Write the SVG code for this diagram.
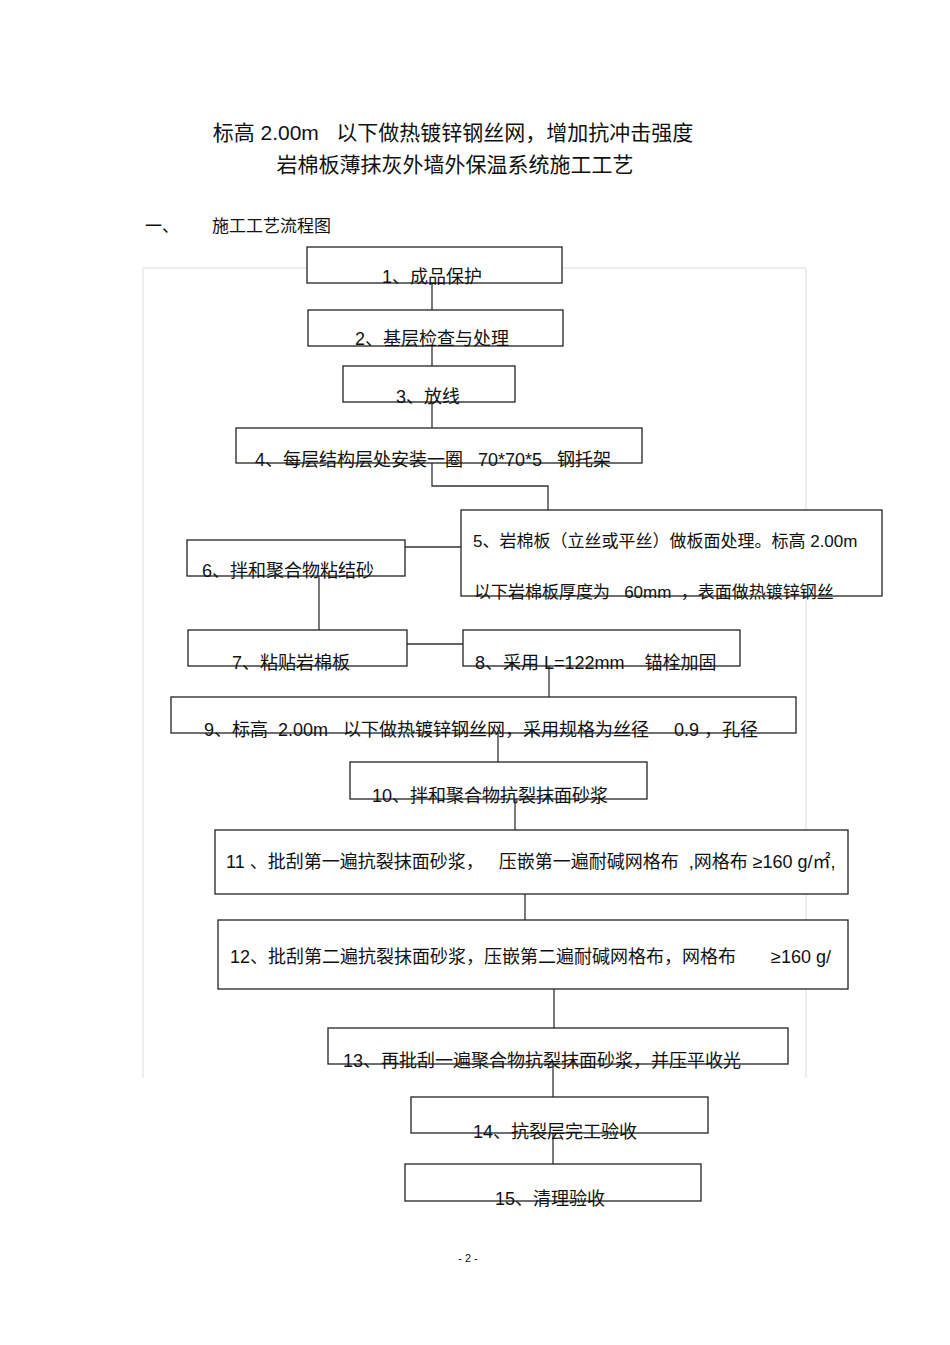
<svg xmlns="http://www.w3.org/2000/svg" width="950" height="1345" viewBox="0 0 950 1345">
<style>
text{font-family:"Liberation Sans","Noto Sans CJK SC",sans-serif;fill:#111;white-space:pre}
.b{fill:#fff;stroke:#222;stroke-width:1.3}
.t{font-size:18px}
.c{text-anchor:middle}
.l{stroke:#333;stroke-width:1.3;fill:none}
</style>
<rect width="950" height="1345" fill="#fff"/>
<path d="M143,1078 V268 H806 V1078" fill="none" stroke="#ddd" stroke-width="1"/>
<text x="453" y="140" class="c" font-size="21" xml:space="preserve">标高 2.00m   以下做热镀锌钢丝网，增加抗冲击强度</text>
<text x="455" y="172" class="c" font-size="21">岩棉板薄抹灰外墙外保温系统施工工艺</text>
<text x="145" y="232" font-size="17">一、</text>
<text x="212" y="232" font-size="17">施工工艺流程图</text>
<g id="connectors">
<path class="l" d="M432,283V310 M432,346V366 M432,402V428 M432,463V486H548V510 M405,547H461 M319,576V630 M407,644H463 M549,666V697 M498,733V762 M515,799V830 M525,894V920 M554,989V1028 M553,1064V1097 M553,1133V1164"/>
</g>
<g id="n1"><rect class="b" x="307" y="247" width="255" height="36"/><text class="t c" x="432" y="283">1、成品保护</text></g>
<g id="n2"><rect class="b" x="308" y="310" width="255" height="36"/><text class="t c" x="432" y="345">2、基层检查与处理</text></g>
<g id="n3"><rect class="b" x="343" y="366" width="172" height="36"/><text class="t c" x="428" y="403">3、放线</text></g>
<g id="n4"><rect class="b" x="236" y="428" width="406" height="35"/><text class="t" x="255" y="466" xml:space="preserve">4、每层结构层处安装一圈   70*70*5   钢托架</text></g>
<g id="n5"><rect class="b" x="461" y="510" width="421" height="86" stroke-width="1.6"/><text x="473" y="547" font-size="17">5、岩棉板（立丝或平丝）做板面处理。标高 2.00m</text><text x="474" y="598" font-size="17" xml:space="preserve">以下岩棉板厚度为   60mm  ，表面做热镀锌钢丝</text></g>
<g id="n6"><rect class="b" x="187" y="540" width="218" height="36"/><text class="t" x="202" y="577">6、拌和聚合物粘结砂</text></g>
<g id="n7"><rect class="b" x="188" y="630" width="219" height="36"/><text class="t" x="232" y="669">7、粘贴岩棉板</text></g>
<g id="n8"><rect class="b" x="463" y="630" width="277" height="36"/><text class="t" x="475" y="669" xml:space="preserve">8、采用 L=122mm    锚栓加固</text></g>
<g id="n9"><rect class="b" x="171" y="697" width="625" height="36"/><text class="t" x="204" y="736" xml:space="preserve">9、标高  2.00m   以下做热镀锌钢丝网，采用规格为丝径     0.9 ，孔径</text></g>
<g id="n10"><rect class="b" x="350" y="762" width="297" height="37"/><text class="t" x="372" y="802">10、拌和聚合物抗裂抹面砂浆</text></g>
<g id="n11"><rect class="b" x="215" y="830" width="633" height="64" stroke-width="1.8"/><text class="t" x="226" y="868" xml:space="preserve">11 、批刮第一遍抗裂抹面砂浆，   压嵌第一遍耐碱网格布  ,网格布 ≥160 g/㎡,</text></g>
<g id="n12"><rect class="b" x="218" y="920" width="630" height="69"/><text class="t" x="230" y="963" xml:space="preserve">12、批刮第二遍抗裂抹面砂浆，压嵌第二遍耐碱网格布，网格布       ≥160 g/</text></g>
<g id="n13"><rect class="b" x="328" y="1028" width="460" height="36"/><text class="t" x="343" y="1067">13、再批刮一遍聚合物抗裂抹面砂浆，并压平收光</text></g>
<g id="n14"><rect class="b" x="411" y="1097" width="297" height="36"/><text class="t" x="473" y="1138">14、抗裂层完工验收</text></g>
<g id="n15"><rect class="b" x="405" y="1164" width="296" height="37"/><text class="t" x="495" y="1205">15、清理验收</text></g>
<text x="468" y="1262" class="c" font-size="11">- 2 -</text>
</svg>
